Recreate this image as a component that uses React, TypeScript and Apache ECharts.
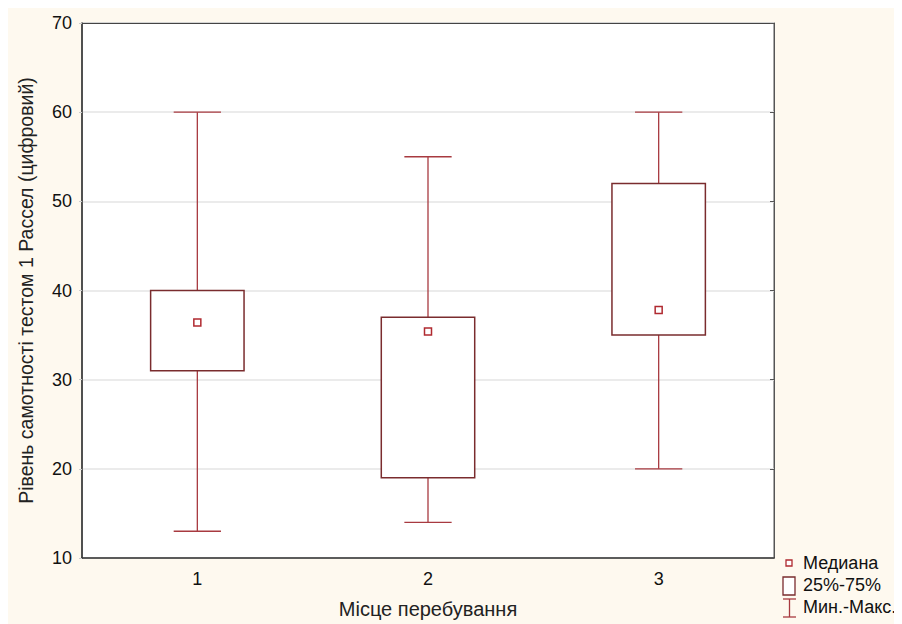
import React, { useEffect, useRef } from "react";
import * as echarts from "echarts";

const categories = ["1", "2", "3"];
const mins = [13, 14, 20];
const q1s = [31, 19, 35];
const medians = [36.4, 35.4, 37.8];
const q3s = [40, 37, 52];
const maxs = [60, 55, 60];
const yTicks = { min: 10, max: 70, interval: 10 };
const xTitle = "Місце перебування";
const yTitle = "Рівень самотності тестом 1 Рассел (цифровий)";
const legendLabels = ["Медиана", "25%-75%", "Мин.-Макс."];

const WHISKER = "#a83a40";
const BOX = "#7a2c2e";
const MED = "#b02a30";
const FONT = "Liberation Sans, Arial, sans-serif";

export default function App() {
  const ref = useRef<HTMLDivElement>(null);
  useEffect(() => {
    if (!ref.current) return;
    const chart = echarts.init(ref.current, null, { renderer: "svg" });
    const data = categories.map((_, i) => [i, mins[i], q1s[i], medians[i], q3s[i], maxs[i]]);
    const ox = -8, oy = -8;
    chart.setOption({
      animation: false,
      backgroundColor: "#fef9ef",
      grid: {
        left: 73, top: 15, width: 693, height: 535,
        show: true, backgroundColor: "#ffffff", borderColor: "#555", borderWidth: 1,
      },
      xAxis: [
        {
          type: "category", data: categories, position: "bottom",
          name: xTitle, nameLocation: "middle", nameGap: 41,
          nameTextStyle: { fontFamily: FONT, fontSize: 20, color: "#222" },
          axisLine: { lineStyle: { color: "#333", width: 1.5 } },
          axisTick: { inside: true, alignWithLabel: true, length: 4, lineStyle: { color: "#333" } },
          axisLabel: { fontFamily: FONT, fontSize: 18, color: "#111", margin: 12 },
          splitLine: { show: false },
        },
        {
          type: "category", data: categories, position: "top", gridIndex: 0,
          axisLine: { lineStyle: { color: "#444" } },
          axisTick: { inside: true, alignWithLabel: true, length: 4, lineStyle: { color: "#333" } },
          axisLabel: { show: false },
        },
      ],
      yAxis: [
        {
          type: "value", min: yTicks.min, max: yTicks.max, interval: yTicks.interval,
          name: yTitle, nameLocation: "middle", nameGap: 46,
          nameTextStyle: { fontFamily: FONT, fontSize: 19.5, color: "#222" },
          axisLine: { show: true, lineStyle: { color: "#333", width: 1.5 } },
          axisTick: { show: true, length: 3, lineStyle: { color: "#ccc" } },
          axisLabel: { fontFamily: FONT, fontSize: 18, color: "#111", margin: 10 },
          splitLine: { show: true, lineStyle: { color: "#e4e4e4", width: 1.5 } },
        },
        {
          type: "value", position: "right", min: yTicks.min, max: yTicks.max, interval: yTicks.interval,
          axisLine: { show: true, lineStyle: { color: "#555" } },
          axisTick: { show: true, inside: true, length: 4, lineStyle: { color: "#555" } },
          axisLabel: { show: false },
          splitLine: { show: false },
        },
      ],
      series: [
        {
          type: "custom",
          xAxisIndex: 0, yAxisIndex: 0,
          data,
          encode: { x: 0, y: [1, 2, 3, 4, 5] },
          renderItem: (params: any, api: any) => {
            const x = api.value(0);
            const pMin = api.coord([x, api.value(1)]);
            const pQ1 = api.coord([x, api.value(2)]);
            const pMed = api.coord([x, api.value(3)]);
            const pQ3 = api.coord([x, api.value(4)]);
            const pMax = api.coord([x, api.value(5)]);
            const band = api.size([1, 0])[0];
            const boxW = band * 0.405;
            const capW = band * 0.205;
            const cx = pMin[0];
            const wl = { stroke: WHISKER, lineWidth: 1.3 };
            return {
              type: "group",
              children: [
                { type: "line", shape: { x1: cx, y1: pMax[1], x2: cx, y2: pQ3[1] }, style: wl },
                { type: "line", shape: { x1: cx, y1: pQ1[1], x2: cx, y2: pMin[1] }, style: wl },
                { type: "line", shape: { x1: cx - capW / 2, y1: pMax[1], x2: cx + capW / 2, y2: pMax[1] }, style: wl },
                { type: "line", shape: { x1: cx - capW / 2, y1: pMin[1], x2: cx + capW / 2, y2: pMin[1] }, style: wl },
                {
                  type: "rect",
                  shape: { x: cx - boxW / 2, y: pQ3[1], width: boxW, height: pQ1[1] - pQ3[1] },
                  style: { fill: "#ffffff", stroke: BOX, lineWidth: 1.5 },
                },
                {
                  type: "rect",
                  shape: { x: cx - 3.5, y: pMed[1] - 3.5, width: 7, height: 7 },
                  style: { fill: "#ffffff", stroke: MED, lineWidth: 1.5 },
                },
              ],
            };
          },
        },
      ],
      graphic: [
        { type: "rect", shape: { x: 786 + ox, y: 560 + oy, width: 6, height: 6 }, style: { fill: "#fff", stroke: MED, lineWidth: 1.3 } },
        { type: "text", x: 803 + ox, y: 563 + oy, style: { text: legendLabels[0], font: `18px ${FONT}`, fill: "#111", verticalAlign: "middle" } },
        { type: "rect", shape: { x: 783 + ox, y: 577 + oy, width: 12, height: 18 }, style: { fill: "#fff", stroke: BOX, lineWidth: 1.3 } },
        { type: "text", x: 803 + ox, y: 585 + oy, style: { text: legendLabels[1], font: `18px ${FONT}`, fill: "#111", verticalAlign: "middle" } },
        { type: "line", shape: { x1: 783 + ox, y1: 599 + oy, x2: 796 + ox, y2: 599 + oy }, style: { stroke: WHISKER, lineWidth: 1.3 } },
        { type: "line", shape: { x1: 789.5 + ox, y1: 599 + oy, x2: 789.5 + ox, y2: 617 + oy }, style: { stroke: WHISKER, lineWidth: 1.3 } },
        { type: "line", shape: { x1: 783 + ox, y1: 617 + oy, x2: 796 + ox, y2: 617 + oy }, style: { stroke: WHISKER, lineWidth: 1.3 } },
        { type: "text", x: 803 + ox, y: 607 + oy, style: { text: legendLabels[2], font: `18px ${FONT}`, fill: "#111", verticalAlign: "middle" } },
      ],
    });
    return () => chart.dispose();
  }, []);
  return <div ref={ref} style={{ width: 894, height: 616 }} />;
}
